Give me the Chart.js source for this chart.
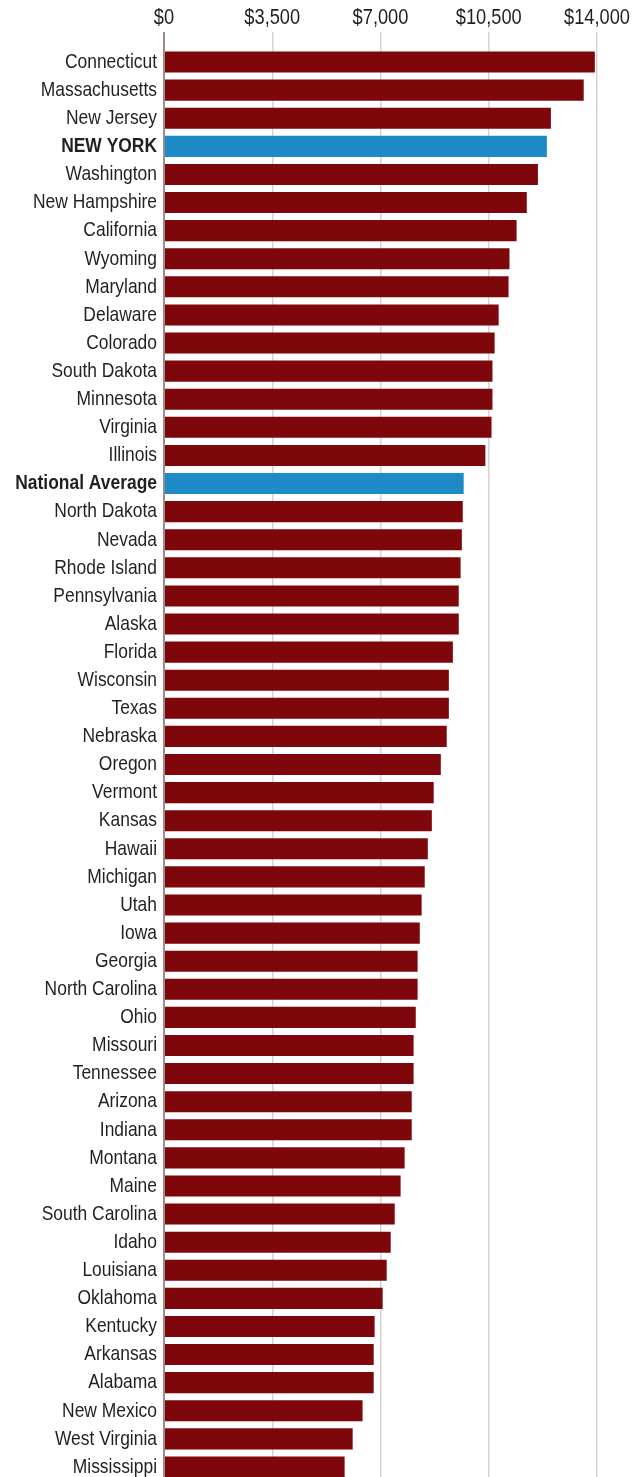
<!DOCTYPE html>
<html>
<head>
<meta charset="utf-8">
<title>Spending by state</title>
<script src="https://cdn.jsdelivr.net/npm/chart.js@4/dist/chart.umd.min.js"></script>
<style>
  html, body {
    margin: 0;
    padding: 0;
    background: #ffffff;
    overflow: hidden;
  }
  /* the last row runs a few pixels past the visible frame */
  #frame {
    width: 640px;
    height: 1477px;
    overflow: hidden;
  }
  #wrap {
    position: relative;
    width: 640px;
    height: 1481px;
  }
</style>
</head>
<body>
<div id="frame">
  <div id="wrap">
    <canvas id="stateChart"></canvas>
  </div>
</div>
<script>
// Categories, top to bottom
const states = [
  "Connecticut", "Massachusetts", "New Jersey", "NEW YORK", "Washington",
  "New Hampshire", "California", "Wyoming", "Maryland", "Delaware",
  "Colorado", "South Dakota", "Minnesota", "Virginia", "Illinois",
  "National Average", "North Dakota", "Nevada", "Rhode Island", "Pennsylvania",
  "Alaska", "Florida", "Wisconsin", "Texas", "Nebraska",
  "Oregon", "Vermont", "Kansas", "Hawaii", "Michigan",
  "Utah", "Iowa", "Georgia", "North Carolina", "Ohio",
  "Missouri", "Tennessee", "Arizona", "Indiana", "Montana",
  "Maine", "South Carolina", "Idaho", "Louisiana", "Oklahoma",
  "Kentucky", "Arkansas", "Alabama", "New Mexico", "West Virginia",
  "Mississippi",
];

// Dollar amounts, same order as states
const amounts = [
  13930, 13570, 12510, 12380, 12090,
  11730, 11400, 11170, 11140, 10820,
  10690, 10620, 10620, 10590, 10390,
  9690, 9660, 9630, 9590, 9530,
  9530, 9340, 9210, 9210, 9140,
  8950, 8720, 8660, 8530, 8430,
  8330, 8270, 8200, 8200, 8140,
  8070, 8070, 8010, 8010, 7780,
  7650, 7460, 7330, 7200, 7070,
  6810, 6780, 6780, 6420, 6100,
  5840,
];

// Rows drawn in blue with bold labels
const highlighted = ["NEW YORK", "National Average"];

// Axis ticks
const tickValues = [0, 3500, 7000, 10500, 14000];

const FONT = "'Liberation Sans', Arial, sans-serif";
const TEXT_COLOR = "#231f20";
const BAR_COLOR = "#7e070c";
const HIGHLIGHT_COLOR = "#1e8bc8";
const TEXT_STRETCH = 0.83; // squeeze labels into a condensed look

const isHighlighted = (i) => highlighted.includes(states[i]);

// Draws every label horizontally condensed around its anchor point
const condensedText = {
  id: "condensedText",
  beforeInit(chart) {
    const c = chart.ctx;
    const fill = CanvasRenderingContext2D.prototype.fillText;
    c.fillText = function (text, x, y) {
      c.save();
      c.translate(x, y);
      c.scale(TEXT_STRETCH, 1);
      fill.call(c, text, 0, 0);
      c.restore();
    };
  },
};

const ctx = document.getElementById("stateChart").getContext("2d");

new Chart(ctx, {
  type: "bar",
  data: {
    labels: states,
    datasets: [
      {
        data: amounts,
        backgroundColor: states.map((s, i) =>
          isHighlighted(i) ? HIGHLIGHT_COLOR : BAR_COLOR
        ),
        borderWidth: 0,
        categoryPercentage: 1,
        barPercentage: 0.75,
      },
    ],
  },
  plugins: [condensedText],
  options: {
    indexAxis: "y",
    responsive: true,
    maintainAspectRatio: false,
    animation: false,
    layout: {
      padding: { top: 0, left: 0, right: 43, bottom: 0 },
    },
    plugins: {
      legend: { display: false },
      tooltip: { enabled: false },
    },
    scales: {
      x: {
        position: "top",
        min: 0,
        max: 14000,
        afterBuildTicks: (scale) => {
          scale.ticks = tickValues.map((v) => ({ value: v }));
        },
        afterFit: (scale) => {
          scale.height = 48;
        },
        grid: {
          drawTicks: true,
          tickLength: 16,
          color: (c) => (c.tick && c.tick.value === 0 ? "#9d8c86" : "#dad2cf"),
          lineWidth: (c) => (c.tick && c.tick.value === 0 ? 2 : 1.5),
        },
        border: { display: false },
        ticks: {
          padding: 1,
          color: TEXT_COLOR,
          font: { family: FONT, size: 22 },
          callback: (v) => "$" + Number(v).toLocaleString("en-US"),
        },
      },
      y: {
        afterFit: (scale) => {
          scale.width = 164;
          scale.paddingTop = 0;
          scale.paddingBottom = 0;
        },
        grid: { display: false, drawTicks: false },
        border: { display: false },
        ticks: {
          padding: 7,
          autoSkip: false,
          color: TEXT_COLOR,
          font: (c) => ({
            family: FONT,
            size: 21,
            weight: isHighlighted(c.index) ? "bold" : "normal",
          }),
        },
      },
    },
  },
});
</script>
</body>
</html>
